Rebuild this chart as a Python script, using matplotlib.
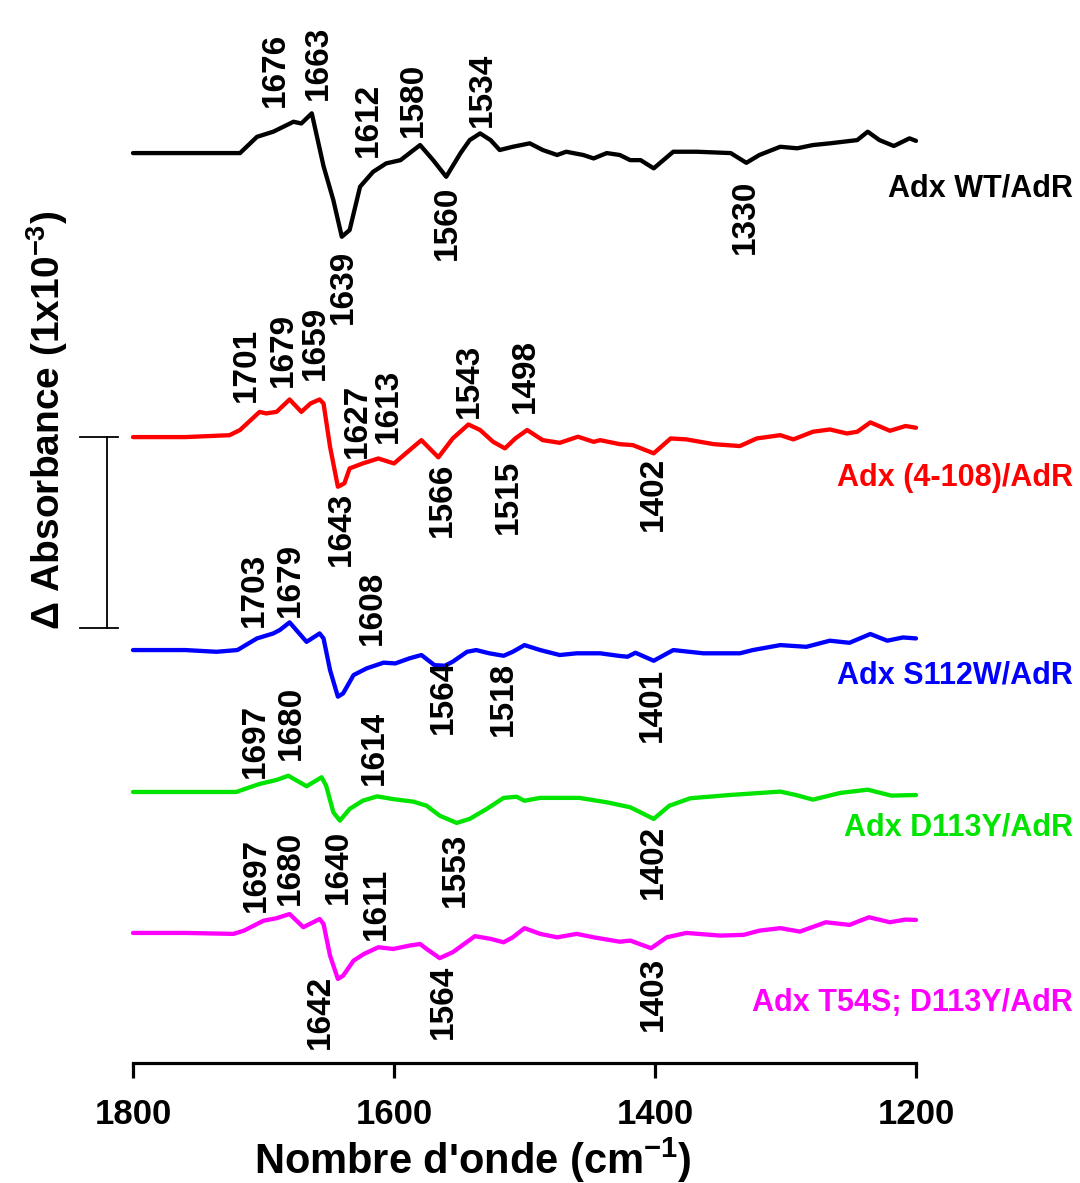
import matplotlib
matplotlib.use("Agg")
import matplotlib.pyplot as plt
import matplotlib.transforms as mtransforms

plt.rcParams['font.family'] = ['Liberation Sans', 'DejaVu Sans']
plt.rcParams['mathtext.fontset'] = 'custom'
plt.rcParams['mathtext.rm'] = 'Liberation Sans:bold'
plt.rcParams['mathtext.default'] = 'rm'

# ---------------- data (ΔA in units of 1e-3) ----------------
wt_w = [1800, 1760, 1718, 1705, 1692.5, 1677, 1671, 1663, 1654, 1646.5, 1640, 1634, 1626, 1616, 1606,
        1595, 1588, 1580, 1570, 1560, 1549, 1542, 1534, 1526, 1519, 1509, 1496, 1486, 1475, 1468,
        1455, 1447, 1437, 1427, 1419, 1411, 1401, 1386, 1368, 1342, 1330, 1320, 1304, 1291, 1279,
        1266, 1245, 1237, 1228, 1217, 1205, 1200]
wt_a = [0.0, 0.0, 0.0, 0.085, 0.112, 0.164, 0.155, 0.208, -0.068, -0.246, -0.438, -0.403, -0.176, -0.098, -0.054,
        -0.037, 0.0, 0.042, -0.037, -0.124, 0.0, 0.068, 0.103, 0.068, 0.016, 0.033, 0.051, 0.016, -0.010, 0.007,
        -0.010, -0.028, 0.0, -0.010, -0.037, -0.037, -0.080, 0.007, 0.007, 0.0, -0.051, -0.010, 0.033, 0.025, 0.042,
        0.051, 0.068, 0.112, 0.068, 0.037, 0.077, 0.064]

d4_w = [1800, 1760, 1726, 1718, 1703, 1698, 1690, 1680, 1671, 1664, 1657, 1654, 1649, 1643, 1638, 1634,
        1624, 1612, 1600, 1588, 1579, 1566, 1555, 1543, 1534, 1524, 1515, 1507, 1498, 1486, 1473, 1459,
        1447, 1442, 1427, 1417, 1401, 1388, 1376, 1355, 1335, 1322, 1304, 1294, 1279, 1266, 1253, 1245,
        1235, 1220, 1208, 1200]
d4_a = [0.0, 0.0, 0.010, 0.037, 0.132, 0.124, 0.132, 0.197, 0.132, 0.176, 0.197, 0.176, -0.051, -0.260, -0.242, -0.164,
        -0.138, -0.112, -0.138, -0.068, -0.016, -0.106, -0.007, 0.066, 0.037, -0.025, -0.059, -0.007, 0.037, -0.016, -0.030, 0.002,
        -0.025, -0.016, -0.037, -0.042, -0.085, -0.007, -0.012, -0.037, -0.047, -0.007, 0.010, -0.012, 0.028, 0.040, 0.019, 0.028,
        0.077, 0.033, 0.058, 0.049]

s112_w = [1800, 1760, 1736, 1720, 1705, 1692.5, 1687.5, 1680, 1667, 1657, 1654, 1649, 1643, 1639, 1631, 1621,
          1608, 1599, 1588, 1579, 1569, 1561, 1555, 1544, 1537, 1527, 1516, 1509, 1500, 1488, 1473, 1460,
          1442, 1427, 1421, 1415, 1401, 1386, 1363, 1335, 1325, 1304, 1284, 1266, 1251, 1235, 1222, 1210, 1200]
s112_a = [0.0, 0.0, -0.009, 0.0, 0.061, 0.087, 0.105, 0.145, 0.043, 0.087, 0.061, -0.105, -0.244, -0.227, -0.131, -0.096,
          -0.066, -0.070, -0.043, -0.026, -0.079, -0.082, -0.061, -0.009, 0.0, -0.017, -0.030, -0.009, 0.026, 0.0, -0.026, -0.017,
          -0.017, -0.031, -0.035, -0.014, -0.056, 0.0, -0.017, -0.017, 0.0, 0.026, 0.017, 0.049, 0.038, 0.084, 0.049, 0.066, 0.061]

d113_w = [1800, 1760, 1721, 1703, 1690, 1681, 1667, 1655.5, 1652, 1646.5, 1641.5, 1634, 1624, 1613, 1601,
          1585, 1575, 1565, 1552, 1542, 1529, 1516, 1506, 1500, 1488, 1458, 1437, 1419, 1401, 1389, 1373,
          1343, 1304, 1292, 1279, 1258, 1237, 1219, 1200]
d113_a = [0.0, 0.0, 0.0, 0.042, 0.063, 0.085, 0.030, 0.077, 0.033, -0.106, -0.150, -0.089, -0.046, -0.023, -0.037,
          -0.051, -0.072, -0.124, -0.162, -0.141, -0.089, -0.031, -0.025, -0.046, -0.031, -0.031, -0.054, -0.080, -0.141, -0.072, -0.033,
          -0.016, 0.002, -0.016, -0.040, -0.005, 0.012, -0.019, -0.016]

t54_w = [1800, 1760, 1723, 1715, 1700, 1690, 1680, 1669.5, 1657, 1654, 1649, 1643, 1639, 1631, 1623, 1612,
         1600.6, 1588, 1580, 1575, 1565, 1555, 1538, 1526, 1516, 1509, 1500, 1488, 1475, 1460, 1447, 1427,
         1419, 1403, 1391, 1376, 1350, 1332, 1320, 1304, 1289, 1269, 1251, 1236, 1220, 1208, 1200]
t54_a = [0.0, 0.0, -0.005, 0.012, 0.064, 0.077, 0.099, 0.030, 0.073, 0.047, -0.119, -0.241, -0.224, -0.145, -0.110, -0.075,
         -0.084, -0.066, -0.058, -0.084, -0.132, -0.101, -0.017, -0.031, -0.049, -0.023, 0.025, -0.005, -0.023, -0.005, -0.023, -0.046,
         -0.040, -0.080, -0.023, 0.0, -0.014, -0.010, 0.012, 0.025, 0.007, 0.056, 0.042, 0.082, 0.056, 0.070, 0.068]

series_names = ["Adx WT/AdR", "Adx (4-108)/AdR", "Adx S112W/AdR", "Adx D113Y/AdR", "Adx T54S; D113Y/AdR"]

# peak labels: (text, x position in cm-1, y anchor in plot units, above?)
wt_labels = [("1676", 1691.2, 5.005, True), ("1663", 1658.2, 5.042, True), ("1612", 1619.5, 4.743, True),
             ("1580", 1585.4, 4.848, True), ("1534", 1532.6, 4.901, True),
             ("1639", 1639.1, 4.257, False), ("1560", 1559.4, 4.592, False), ("1330", 1331.0, 4.623, False)]
d4_labels = [("1701", 1713.0, 3.461, True), ("1679", 1685.0, 3.539, True), ("1659", 1660.5, 3.576, True),
             ("1627", 1628.4, 3.168, True), ("1613", 1604.6, 3.246, True), ("1543", 1542.5, 3.377, True),
             ("1498", 1499.6, 3.403, True),
             ("1643", 1640.6, 2.990, False), ("1566", 1563.2, 3.141, False), ("1515", 1512.6, 3.157, False),
             ("1402", 1401.5, 3.173, False)]
s112_labels = [("1703", 1707.3, 2.283, True), ("1679", 1679.7, 2.335, True), ("1608", 1616.9, 2.188, True),
               ("1564", 1562.5, 2.110, False), ("1518", 1516.5, 2.099, False), ("1401", 1402.3, 2.068, False)]
d113_labels = [("1697", 1706.5, 1.492, True), ("1680", 1678.9, 1.586, True), ("1614", 1615.3, 1.455, True),
               ("1640", 1642.9, 1.220, False), ("1553", 1553.3, 1.204, False), ("1402", 1401.5, 1.246, False)]
t54_labels = [("1697", 1705.7, 0.791, True), ("1680", 1679.7, 0.827, True), ("1611", 1613.8, 0.644, True),
              ("1642", 1656.7, 0.461, False), ("1564", 1562.5, 0.513, False), ("1403", 1401.5, 0.555, False)]

xticks = [1800, 1600, 1400, 1200]

# ---------------- layout / style ----------------
offsets = [4.764, 3.277, 2.162, 1.419, 0.681]
colors = ["#000000", "#ff0000", "#0000ff", "#00e400", "#ff00ff"]
name_y = [188, 478, 676, 828, 1003]  # pixel centres of series names

W, H = 1080, 1183
fig = plt.figure(figsize=(W / 100, H / 100), dpi=100)
ax = fig.add_axes([133 / W, 1 - 1063 / H, (916 - 133) / W, 1063 / H])
ax.set_xlim(1800, 1200)
ax.set_ylim(0, 1063 / 191)

curves = [(wt_w, wt_a), (d4_w, d4_a), (s112_w, s112_a), (d113_w, d113_a), (t54_w, t54_a)]
for (w, a), off, c in zip(curves, offsets, colors):
    ax.plot(w, [v + off for v in a], color=c, lw=3.1, solid_joinstyle='round',
            solid_capstyle='round', clip_on=False)

for labels in [wt_labels, d4_labels, s112_labels, d113_labels, t54_labels]:
    for txt, xw, yv, above in labels:
        ax.text(xw, yv, txt, rotation=90, ha='center', va='bottom' if above else 'top',
                fontsize=24, fontweight='bold', color='black')

for name, yc, c in zip(series_names, name_y, colors):
    fig.text(1073 / W, 1 - yc / H, name, ha='right', va='center', fontsize=22,
             fontweight='bold', color=c)

# scale bar: 1 x 10^-3
trans = mtransforms.blended_transform_factory(ax.transAxes, ax.transData)
xb = (107 - 133) / 783
xl, xr = (80 - 133) / 783, (118 - 133) / 783
ytop = offsets[1]
ybot = offsets[1] - 1.0
ax.plot([xb, xb], [ybot, ytop], color='black', lw=1.3, transform=trans, clip_on=False)
ax.plot([xl, xr], [ytop, ytop], color='black', lw=1.3, transform=trans, clip_on=False)
ax.plot([xl, xr], [ybot, ybot], color='black', lw=1.3, transform=trans, clip_on=False)

for s in ['left', 'top', 'right']:
    ax.spines[s].set_visible(False)
ax.spines['bottom'].set_linewidth(2.3)
ax.set_yticks([])
ax.set_xticks(xticks)
ax.set_xticklabels([str(t) for t in xticks])
ax.tick_params(axis='x', direction='out', length=11, width=2.3, pad=14, labelsize=25)
for lab in ax.get_xticklabels():
    lab.set_fontweight('bold')

fig.text(473 / W, 1 - 1160 / H, "Nombre d'onde (cm$^{-1}$)", ha='center', va='center',
         fontsize=30, fontweight='bold')
fig.text(47 / W, 1 - 420 / H, "Δ Absorbance (1x10$^{-3}$)", ha='center', va='center',
         rotation=90, fontsize=28, fontweight='bold')

fig.savefig("out.png", dpi=100)
